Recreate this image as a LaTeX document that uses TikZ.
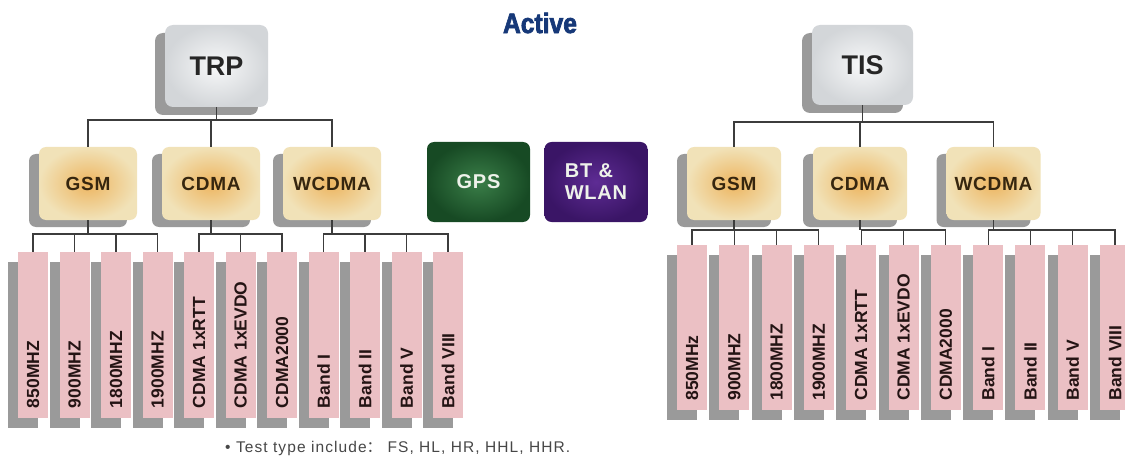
\documentclass[tikz,border=0pt]{standalone}
\usepackage{fontspec}
\usepackage{graphicx}
\setmainfont{Liberation Sans}
\newfontfamily\cjk{Noto Sans CJK SC}
\newfontfamily\activefont[FakeBold=2.5,FakeStretch=0.88]{Liberation Sans}
\newfontfamily\notefont[LetterSpace=7]{Liberation Sans}
\newfontfamily\midfont[LetterSpace=4]{Liberation Sans}
\usetikzlibrary{shadows}
\definecolor{leafpink}{HTML}{EBC0C4}
\definecolor{shadowgray}{HTML}{9A9A9A}
\definecolor{linegray}{HTML}{3C3C3C}
\definecolor{midin}{HTML}{EDB560}
\definecolor{midout}{HTML}{F1E2B8}
\definecolor{marblein}{HTML}{F7F8F9}
\definecolor{marbleout}{HTML}{D3D6D9}
\definecolor{gpsin}{HTML}{3A7E48}
\definecolor{gpsout}{HTML}{174A24}
\definecolor{btin}{HTML}{5E2C94}
\definecolor{btout}{HTML}{3A1566}
\definecolor{navy}{HTML}{163878}
\definecolor{leaftextc}{HTML}{241414}
\definecolor{midtextc}{HTML}{36260F}
\definecolor{soloText}{HTML}{EEF2EA}
\newcommand\leaftext[1]{\rotatebox{90}{\makebox[146pt][l]{#1}}}
\begin{document}
\begin{tikzpicture}[x=1pt,y=-1pt,
  conn/.style={draw=linegray, line width=1.1pt},
  leaf/.style={rectangle, fill=leafpink, minimum width=30pt, minimum height=166pt,
    inner sep=0pt, text=leaftextc, font=\fontsize{17.5}{17.5}\selectfont\bfseries,
    general shadow={fill=shadowgray, shadow xshift=-10pt, shadow yshift=-10pt}},
  mid/.style={rectangle, rounded corners=7pt, inner color=midin, outer color=midout,
    minimum width=98pt, minimum height=73pt, text=midtextc,
    font={\midfont\fontsize{19}{19}\selectfont\bfseries},
    general shadow={fill=shadowgray, shadow xshift=-10pt, shadow yshift=-7pt}},
  topbox/.style={rectangle, rounded corners=8pt, inner color=marblein, outer color=marbleout,
    minimum width=103pt, minimum height=82pt, text=black!85,
    font=\fontsize{27}{27}\selectfont\bfseries,
    general shadow={fill=shadowgray, shadow xshift=-10pt, shadow yshift=-8pt}},
  solo/.style={rectangle, rounded corners=7pt, minimum width=103pt, minimum height=80pt,
    text=soloText, font={\midfont\fontsize{20}{22}\selectfont\bfseries}},
]
\useasboundingbox[fill=white] (0,0) rectangle (1125,468);

% title
\node[font={\activefont\bfseries\fontsize{28}{28}\selectfont}, text=navy] (active) at (540,23) {Active};

% top boxes
\node[topbox] (TRP) at (216.5,66) {TRP};
\node[topbox, minimum width=101pt, minimum height=80pt] (TIS) at (862.5,65) {TIS};

% middle boxes
\node[mid] (GSMl) at (88,183.5) {GSM};
\node[mid] (CDMAl) at (211,183.5) {CDMA};
\node[mid] (WCDMAl) at (332,183.5) {WCDMA};
\node[mid, minimum width=94pt] (GSMr) at (734,183.5) {GSM};
\node[mid, minimum width=94pt] (CDMAr) at (860,183.5) {CDMA};
\node[mid, minimum width=94pt] (WCDMAr) at (993.5,183.5) {WCDMA};

\node[solo, inner color=gpsin, outer color=gpsout] (GPS) at (478.5,182) {GPS};
\node[solo, inner color=btin, outer color=btout, align=left] (BT) at (596,182) {BT \&\\WLAN};

% leaves
\foreach \t [count=\i from 0] in {850MHZ,900MHZ,1800MHZ,1900MHZ,CDMA 1xRTT,CDMA 1xEVDO,CDMA2000,Band I,Band II,Band V,Band VIII}
  \node[leaf] (L\i) at ({33+41.5*\i},335) {\leaftext{\t}};
\foreach \t [count=\i from 0] in {850MHz,900MHZ,1800MHZ,1900MHZ,CDMA 1xRTT,CDMA 1xEVDO,CDMA2000,Band I,Band II,Band V,Band VIII}
  \node[leaf, minimum height=165pt] (R\i) at ({692+42.3*\i},327.5) {\leaftext{\t}};

% left top connectors
\draw[conn] (TRP.south) -- (TRP.south |- 0,120);
\draw[conn] (GSMl.north) |- (WCDMAl.north |- 0,120) -- (WCDMAl.north);
\draw[conn] (CDMAl.north) -- (CDMAl.north |- 0,120);

% left bottom connectors
\draw[conn] (GSMl.south) -- (GSMl.south |- 0,234);
\draw[conn] (L0.north) |- (L3.north |- 0,234) -- (L3.north);
\draw[conn] (L1.north) -- (L1.north |- 0,234);
\draw[conn] (L2.north) -- (L2.north |- 0,234);

\draw[conn] (CDMAl.south) -- (CDMAl.south |- 0,234);
\draw[conn] (L4.north) |- (L6.north |- 0,234) -- (L6.north);
\draw[conn] (L5.north) -- (L5.north |- 0,234);

\draw[conn] (WCDMAl.south) -- (WCDMAl.south |- 0,234);
\draw[conn] (L7.north) |- (L10.north |- 0,234) -- (L10.north);
\draw[conn] (L8.north) -- (L8.north |- 0,234);
\draw[conn] (L9.north) -- (L9.north |- 0,234);

% right top connectors
\draw[conn] (TIS.south) -- (TIS.south |- 0,122);
\draw[conn] (GSMr.north) |- (WCDMAr.north |- 0,122) -- (WCDMAr.north);
\draw[conn] (CDMAr.north) -- (CDMAr.north |- 0,122);

% right bottom connectors
\draw[conn] (GSMr.south) -- (GSMr.south |- 0,230);
\draw[conn] (R0.north) |- (R3.north |- 0,230) -- (R3.north);
\draw[conn] (R1.north) -- (R1.north |- 0,230);
\draw[conn] (R2.north) -- (R2.north |- 0,230);

\draw[conn] (CDMAr.south) -- (CDMAr.south |- 0,230);
\draw[conn] (R4.north) |- (R6.north |- 0,230) -- (R6.north);
\draw[conn] (R5.north) -- (R5.north |- 0,230);

\draw[conn] (WCDMAr.south) -- (WCDMAr.south |- 0,230);
\draw[conn] (R7.north) |- (R10.north |- 0,230) -- (R10.north);
\draw[conn] (R8.north) -- (R8.north |- 0,230);
\draw[conn] (R9.north) -- (R9.north |- 0,230);

% footnote
\node[anchor=west, font={\notefont\fontsize{15.5}{15.5}\selectfont}, text=black!72, inner sep=0pt] (note) at (225,448)
  {• Test type include{\cjk ：} FS, HL, HR, HHL, HHR.};
\end{tikzpicture}
\end{document}
